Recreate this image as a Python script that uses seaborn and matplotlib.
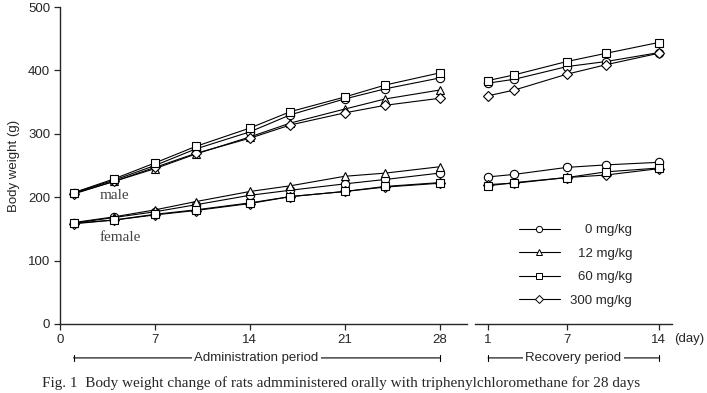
import matplotlib
matplotlib.use("Agg")
import matplotlib.pyplot as plt
import pandas as pd
import seaborn as sns
from matplotlib.lines import Line2D

# --- data (body weight, g) ---
ADMIN_DAYS = [1, 4, 7, 10, 14, 17, 21, 24, 28]
RECOV_DAYS = [1, 3, 7, 10, 14]
DOSES = ["0 mg/kg", "12 mg/kg", "60 mg/kg", "300 mg/kg"]
DRAW_ORDER = ["0 mg/kg", "12 mg/kg", "300 mg/kg", "60 mg/kg"]
MARKERS = {"0 mg/kg": "o", "12 mg/kg": "^", "60 mg/kg": "s", "300 mg/kg": "D"}

male_admin = {
    "0 mg/kg":   [207, 227, 250, 276, 303, 330, 355, 371, 388],
    "12 mg/kg":  [206, 225, 245, 268, 295, 317, 339, 355, 369],
    "60 mg/kg":  [207, 229, 254, 280, 309, 335, 358, 377, 396],
    "300 mg/kg": [205, 225, 247, 269, 293, 314, 333, 345, 356],
}
female_admin = {
    "0 mg/kg":   [159, 168, 177, 188, 203, 211, 221, 228, 238],
    "12 mg/kg":  [160, 169, 180, 193, 209, 218, 233, 238, 248],
    "60 mg/kg":  [159, 164, 173, 180, 191, 201, 209, 217, 223],
    "300 mg/kg": [158, 164, 172, 179, 190, 201, 209, 216, 222],
}
male_recov = {
    "0 mg/kg":   [380, 386, 406, 414, 428],
    "60 mg/kg":  [384, 393, 414, 427, 444],
    "300 mg/kg": [360, 369, 394, 409, 427],
}
female_recov = {
    "0 mg/kg":   [232, 236, 247, 251, 255],
    "60 mg/kg":  [218, 223, 231, 240, 246],
    "300 mg/kg": [220, 222, 231, 235, 245],
}


def _long(days, by_sex):
    rows = []
    for sex, groups in by_sex.items():
        for dose, vals in groups.items():
            for d, v in zip(days, vals):
                rows.append({"sex": sex, "dose": dose, "day": d, "weight": v})
    return pd.DataFrame(rows)


admin_df = _long(ADMIN_DAYS, {"male": male_admin, "female": female_admin})
recov_df = _long(RECOV_DAYS, {"male": male_recov, "female": female_recov})

sns.set_style("ticks")
plt.rcParams["font.family"] = ["Liberation Sans", "DejaVu Sans"]
plt.rcParams["font.size"] = 9

fig = plt.figure(figsize=(7.07, 3.93), dpi=100)
ax_l = fig.add_axes([60 / 707, 69 / 393, 406.7 / 707, 317 / 393])
ax_r = fig.add_axes([475 / 707, 69 / 393, 196.7 / 707, 317 / 393])

line_kws = dict(color="black", linewidth=0.8, markersize=6, mfc="white",
                mec="black", markeredgewidth=0.8, estimator=None, units="sex",
                dashes=False, legend=False)

for ax, df in ((ax_l, admin_df), (ax_r, recov_df)):
    used = [d for d in DRAW_ORDER if d in set(df["dose"])]
    sns.lineplot(data=df, x="day", y="weight", style="dose", style_order=used,
                 markers={d: MARKERS[d] for d in used}, ax=ax, **line_kws)
    # matplotlib's "D" draws larger than "s" at the same size
    for ln in ax.lines:
        if ln.get_marker() == "D":
            ln.set_markersize(5)
    ax.set_ylim(0, 500)
    ax.set_xlabel("")
    ax.set_ylabel("")
    ax.tick_params(direction="out", length=4, width=0.9, pad=3, labelsize=9.5)
    for side in ("top", "right"):
        ax.spines[side].set_visible(False)
    ax.spines["bottom"].set_linewidth(1.0)
    ax.spines["left"].set_linewidth(1.0)

ax_l.set_xlim(0, 30)
ax_l.set_xticks([0, 7, 14, 21, 28])
ax_l.set_yticks([0, 100, 200, 300, 400, 500])
ax_l.set_ylabel("Body weight (g)", fontsize=9.5, labelpad=6)

ax_r.set_xlim(0, 15)
ax_r.set_xticks([1, 7, 14])
ax_r.spines["left"].set_visible(False)
ax_r.set_yticks([])

# sex labels
ax_l.text(2.95, 202, "male", family="Liberation Serif", fontsize=11,
          color="#444444", va="center")
ax_l.text(2.95, 137, "female", family="Liberation Serif", fontsize=11,
          color="#444444", va="center")

# period brackets
for ax, x0, x1, label in ((ax_l, 1, 28, "Administration period"),
                          (ax_r, 1, 14, "Recovery period")):
    ax.annotate("", xy=(x0, -0.107), xytext=(x1, -0.107),
                xycoords=("data", "axes fraction"),
                textcoords=("data", "axes fraction"),
                arrowprops=dict(arrowstyle="|-|,widthA=0.25,widthB=0.25",
                                lw=0.8, color="black", shrinkA=0, shrinkB=0),
                annotation_clip=False)
    ax.text((x0 + x1) / 2, -0.107, label, transform=ax.get_xaxis_transform(),
            ha="center", va="center", fontsize=9.5,
            bbox=dict(facecolor="white", edgecolor="none", pad=2))

ax_r.text(1.09, -0.047, "(day)", transform=ax_r.transAxes, ha="center",
          va="center", fontsize=9.5)

# legend, labels right-aligned
handles = [Line2D([], [], color="black", lw=0.8, marker=MARKERS[d], mfc="white",
                  mec="black", markersize=4 if d == "300 mg/kg" else 4.5,
                  markeredgewidth=0.7) for d in DOSES]
leg = fig.legend(handles, DOSES, loc="upper left",
                 bbox_to_anchor=(519 / 707, 1 - 224 / 393), frameon=False,
                 fontsize=9.5, handlelength=3.1, handletextpad=0.8,
                 labelspacing=0.85, borderpad=0, borderaxespad=0)
renderer = fig.canvas.get_renderer()
widths = [t.get_window_extent(renderer).width for t in leg.get_texts()]
shift = max(widths)
for t, w in zip(leg.get_texts(), widths):
    t.set_ha("right")
    t.set_position((shift - w, 0))

fig.text(42 / 707, 1 - 383 / 393,
         "Fig. 1  Body weight change of rats admministered orally with "
         "triphenylchloromethane for 28 days",
         family="Liberation Serif", fontsize=11, va="center")

fig.savefig("out.png", dpi=100)
